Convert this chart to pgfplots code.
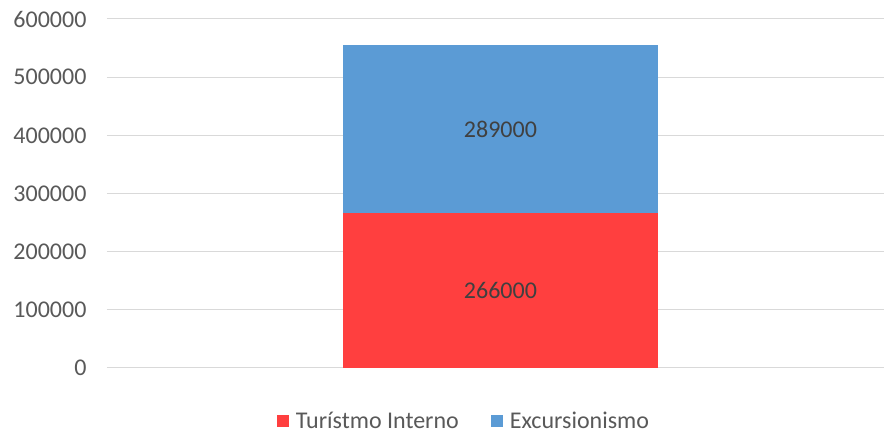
\documentclass[border=0pt]{standalone}
\usepackage{pgfplots}
\pgfplotsset{compat=1.18}
\usepackage{fontspec}
\setmainfont{Carlito}
\definecolor{redbar}{HTML}{FF3F3F}
\definecolor{bluebar}{HTML}{5B9BD5}
\definecolor{gridc}{HTML}{D9D9D9}
\definecolor{txt}{HTML}{595959}
\begin{document}
\begin{tikzpicture}
\useasboundingbox (0,0) rectangle (884pt,433pt);
\begin{axis}[
  at={(107pt,65pt)}, anchor=south west,
  width=777pt, height=349pt, scale only axis,
  ybar stacked, bar width=0.405,
  xmin=-0.5064, xmax=0.4936,
  ymin=0, ymax=600000,
  ytick={0,100000,200000,300000,400000,500000,600000},
  scaled y ticks=false,
  yticklabel style={/pgf/number format/fixed,/pgf/number format/1000 sep={}, font=\fontsize{24}{28}\selectfont, text=txt, xshift=-17pt},
  /pgf/number format/assume math mode=true,
  xtick=\empty,
  axis line style={draw=none},
  major tick length=0pt,
  ymajorgrids, grid style={gridc, line width=1pt},
  nodes near coords,
  every node near coord/.append style={font=\fontsize{24}{28}\selectfont, text=black!75, /pgf/number format/1000 sep={}, /pgf/number format/fixed},
  nodes near coords align={center},
  point meta=explicit,
  legend style={at={(0.4595,-0.152)}, anchor=center, draw=none, inner sep=0pt, legend columns=2, font=\fontsize{24}{28}\selectfont, text=txt,
    /tikz/every odd column/.append style={column sep=5pt},
    /tikz/every even column/.append style={column sep=30pt}},
  legend image code/.code={\fill[#1] (0pt,-6pt) rectangle (12pt,6pt);},
]
\addplot[fill=redbar, draw=none] coordinates {(0,266000) [266000]};
\addplot[fill=bluebar, draw=none] coordinates {(0,289000) [289000]};
\legend{Turístmo Interno, Excursionismo}
\end{axis}
\end{tikzpicture}
\end{document}
